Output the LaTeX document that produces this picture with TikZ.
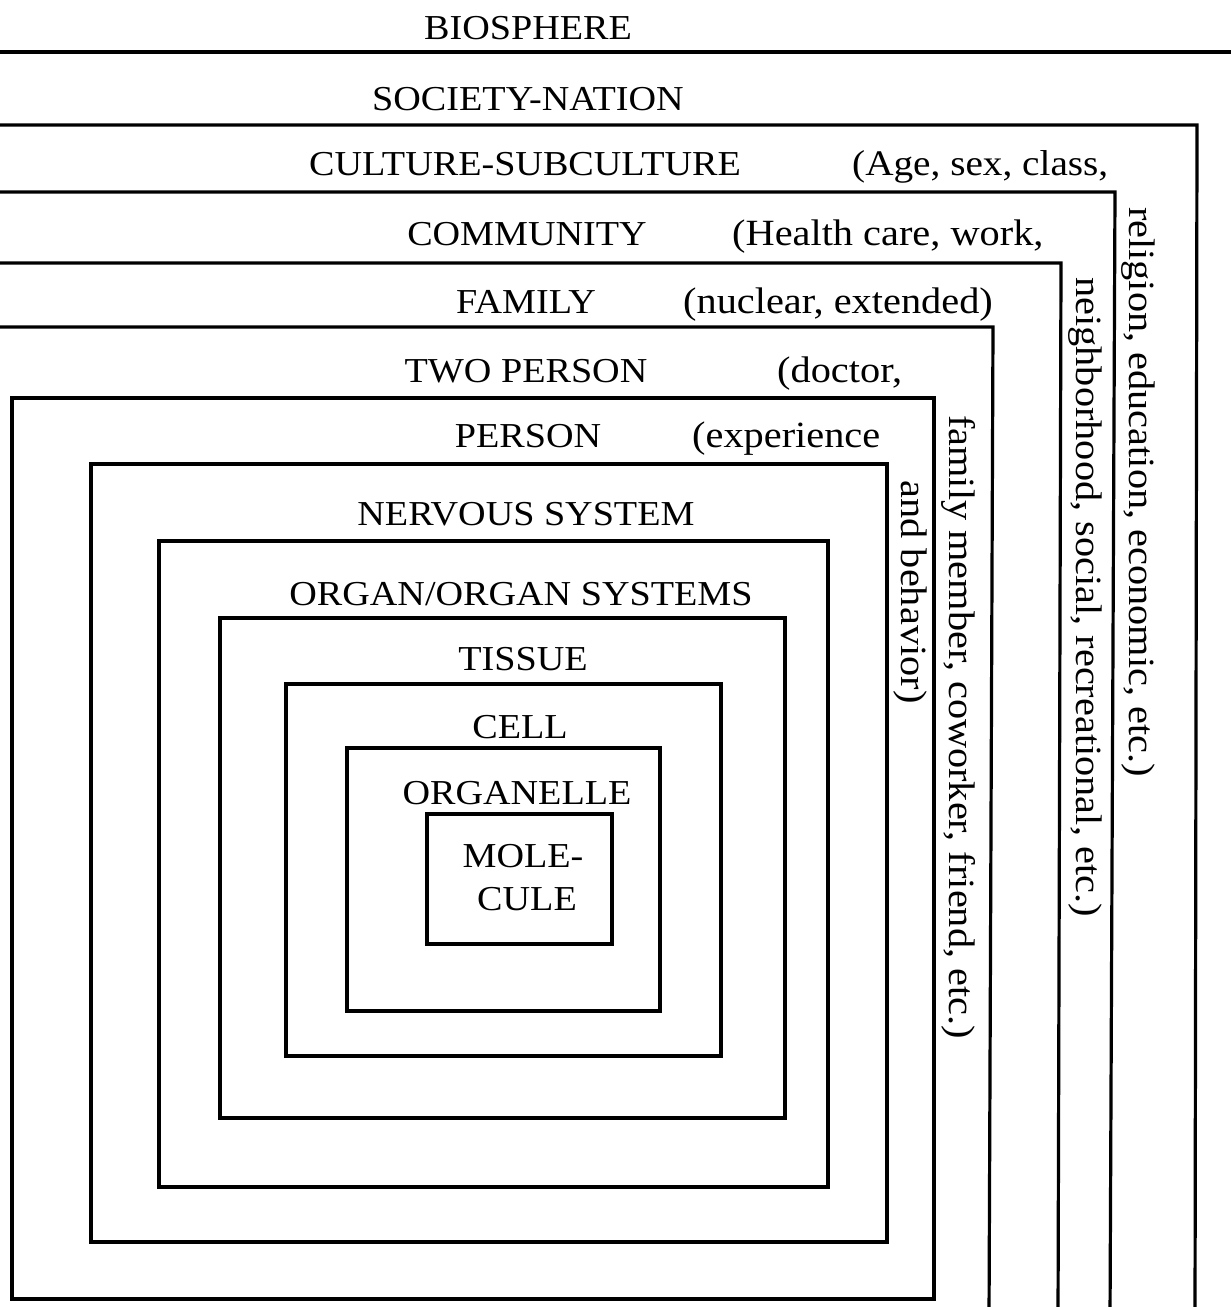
\documentclass[tikz,border=0pt]{standalone}
\usepackage{fontspec}
\setmainfont{Liberation Serif}[FakeStretch=1.09]
\begin{document}
\begin{tikzpicture}[x=1pt,y=-1pt,
  box/.style={line width=3.2pt, line join=miter, line cap=rect},
  lab/.style={font=\fontsize{35}{40}\selectfont, inner sep=0pt, anchor=base},
  note/.style={inner sep=0pt, anchor=base west, font=\fontsize{37}{42}\selectfont},
  side/.style={font=\fontsize{37}{42}\selectfont, inner sep=0pt, rotate=-90}]
\useasboundingbox (0,0) rectangle (1231,1307);
% labels
\node[lab] (bio) at (528,39) {BIOSPHERE};
\node[lab] (soc) at (528,110) {SOCIETY-NATION};
\node[lab] (cul) at (525,175) {CULTURE-SUBCULTURE};
\node[note, font=\fontsize{36}{41}\selectfont] (culn) at (852,175) {(Age, sex, class,};
\node[lab] (com) at (527,245) {COMMUNITY};
\node[note] (comn) at (732,245) {(Health care, work,};
\node[lab] (fam) at (526,313) {FAMILY};
\node[note] (famn) at (683,313) {(nuclear, extended)};
\node[lab] (two) at (526,382) {TWO PERSON};
\node[note] (twon) at (777,382) {(doctor,};
\node[lab] (per) at (528,447) {PERSON};
\node[note] (pern) at (692,447) {(experience};
\node[lab] (ner) at (526,525) {NERVOUS SYSTEM};
\node[lab] (org) at (521,605) {ORGAN/ORGAN SYSTEMS};
\node[lab] (tis) at (523,670) {TISSUE};
\node[lab] (cel) at (520,738) {CELL};
\node[lab] (orl) at (517,804) {ORGANELLE};
\node[lab] (mol1) at (523,867) {MOLE-};
\node[lab] (mol2) at (527,910) {CULE};
% side texts
\node[side] (culs) at (1138,492) {religion, education, economic, etc.)};
\node[side] (coms) at (1085,597) {neighborhood, social, recreational, etc.)};
\node[side] (twos) at (959,727) {family member, coworker, friend, etc.)};
\node[side] (pers) at (910,592) {and behavior)};
% boxes
\draw[box] (-5,52) -- (1240,52);
\draw[box] (-5,125) -- (1197,125) -- (1195,1320);
\draw[box] (-5,192) -- (1115,192) -- (1110,1320);
\draw[box] (-5,263) -- (1061,263) -- (1058,1320);
\draw[box] (-5,327) -- (993,327) -- (989,1320);
\draw[box] (12,398) rectangle (934,1299);
\draw[box] (91,464) rectangle (887,1242);
\draw[box] (159,541) rectangle (828,1187);
\draw[box] (220,618) rectangle (785,1118);
\draw[box] (286,684) rectangle (721,1056);
\draw[box] (347,748) rectangle (660,1011);
\draw[box] (427,814) rectangle (612,944);
\end{tikzpicture}
\end{document}
